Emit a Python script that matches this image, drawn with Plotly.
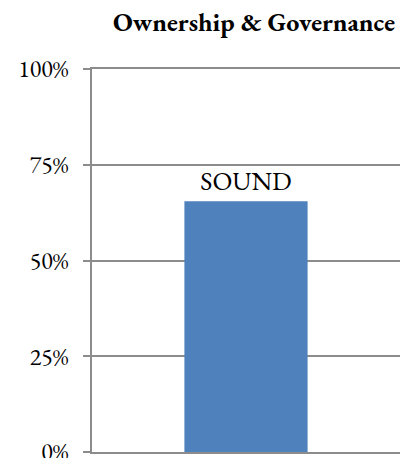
import plotly.graph_objects as go

categories = ["Ownership & Governance"]
values = [0.655]
labels = ["SOUND"]
tick_vals = [0, 0.25, 0.5, 0.75, 1.0]
tick_text = ["0%", "25%", "50%", "75%", "100%"]

serif = "Garamond, 'EB Garamond', 'Liberation Serif', 'DejaVu Serif', serif"
grid = "#8c8c8c"

fig = go.Figure(go.Bar(
    x=categories, y=values, text=labels, width=0.4,
    textposition="outside", cliponaxis=False,
    textfont=dict(family=serif, size=26, color="#000000"),
    marker=dict(color="#4f81bd", line=dict(width=0)),
    hoverinfo="skip",
))

fig.update_layout(
    width=403, height=458,
    margin=dict(l=92, r=3, t=69, b=6, autoexpand=False),
    paper_bgcolor="white", plot_bgcolor="white",
    showlegend=False,
    title=dict(text="<b>Ownership & Governance</b>", x=254 / 403, xanchor="center",
               y=1 - 22 / 458, yanchor="middle",
               font=dict(family=serif, size=26, color="#000000")),
    xaxis=dict(showticklabels=False, ticks="", showgrid=False, zeroline=False,
               range=[-0.5, 0.5], showline=True, mirror=True,
               linecolor=grid, linewidth=1.5, automargin=False),
    yaxis=dict(range=[0, 1], tickvals=tick_vals, ticktext=tick_text,
               ticks="outside", ticklen=7, tickcolor=grid, tickwidth=1.5,
               showgrid=True, gridcolor=grid, gridwidth=1.5,
               zeroline=False, showline=True, linecolor=grid, linewidth=1.5,
               tickfont=dict(family=serif, size=24, color="#000000"),
               ticklabelstandoff=10, ticklabeloverflow="allow", automargin=False),
    bargap=0.6,
)

fig.write_html("out.html")
